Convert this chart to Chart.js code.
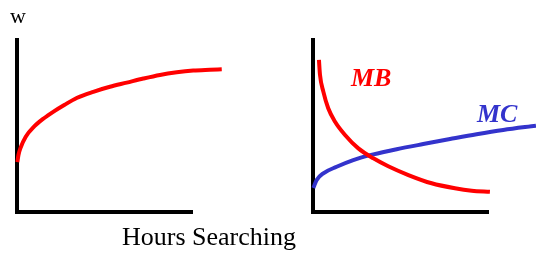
<!DOCTYPE html>
<html lang="en">
<head>
  <meta charset="UTF-8" />
  <title>Hours Searching</title>
  <style>
    body {
      margin: 0;
      width: 536px;
      height: 253px;
      background: #fff;
      position: relative;
      overflow: hidden;
      font-family: "Liberation Serif", "DejaVu Serif", serif;
    }
    canvas {
      position: absolute;
      top: 0;
    }
    #leftChart { left: 0; }
    #rightChart { left: 268px; }
    .txt {
      position: absolute;
      line-height: 1;
      white-space: nowrap;
    }
    #wLabel { left: 10px; top: 5px; font-size: 22px; color: #000; }
    #xLabel { left: 122px; top: 224px; font-size: 26px; color: #000; }
    .curveLabel { font-size: 26px; font-weight: bold; font-style: italic; }
    #mbLabel { left: 351px; top: 65px; color: #ff0000; }
    #mcLabel { left: 477px; top: 101px; color: #3333cc; }
  </style>
  <script src="https://cdn.jsdelivr.net/npm/chart.js"></script>
</head>
<body>

<canvas id="leftChart" width="268" height="253"></canvas>
<canvas id="rightChart" width="268" height="253"></canvas>

<div class="txt" id="wLabel">w</div>
<div class="txt" id="xLabel">Hours Searching</div>
<div class="txt curveLabel" id="mbLabel">MB</div>
<div class="txt curveLabel" id="mcLabel">MC</div>

<script>
  // gauche : w en fonction des heures de recherche
  const leftHours = [0.02, 0.08, 0.21, 0.50, 0.97, 1.54, 2.11, 2.70, 3.41, 4.36, 5.31, 6.27, 7.22, 8.17, 9.13, 10.07, 11.03, 11.70];
  const leftW     = [2.90, 3.30, 3.75, 4.38, 4.96, 5.45, 5.85, 6.22, 6.63, 6.99, 7.28, 7.52, 7.76, 7.97, 8.12, 8.22, 8.27, 8.30];

  // droite : MB et MC
  const mbHours  = [0.34, 0.40, 0.59, 0.87, 1.26, 1.83, 2.59, 3.45, 4.30, 5.45, 6.78, 8.11, 9.07, 10.11];
  const mbValues = [8.84, 7.97, 7.00, 6.03, 5.25, 4.48, 3.70, 3.12, 2.66, 2.15, 1.67, 1.38, 1.24, 1.18];

  const mcHours  = [0.02, 0.21, 0.59, 1.35, 2.30, 3.45, 4.78, 6.30, 7.83, 9.35, 10.87, 12.74];
  const mcValues = [1.40, 1.86, 2.25, 2.63, 3.02, 3.35, 3.65, 3.95, 4.24, 4.52, 4.77, 5.02];

  const AXIS_MAX = 10;

  function toPoints(xs, ys) {
    return xs.map((x, i) => ({ x: x, y: ys[i] }));
  }

  function curve(xs, ys, color) {
    return {
      data: toPoints(xs, ys),
      borderColor: color,
      borderWidth: 4,
      pointRadius: 0,
      cubicInterpolationMode: 'monotone',
      clip: false,
      fill: false
    };
  }

  function makeOptions(padding) {
    return {
      responsive: false,
      animation: false,
      devicePixelRatio: 1,
      layout: { padding: padding },
      plugins: { legend: { display: false }, tooltip: { enabled: false } },
      scales: {
        x: {
          type: 'linear',
          bounds: 'data',
          // pas de min/max dans les options : les courbes depassent l'axe
          afterDataLimits: s => { s.min = 0; s.max = AXIS_MAX; },
          ticks: { display: false },
          grid: { display: false },
          border: { display: true, color: '#000', width: 4 },
          afterFit: s => { s.height = 0; }
        },
        y: {
          type: 'linear',
          min: 0,
          max: AXIS_MAX,
          ticks: { display: false },
          grid: { display: false },
          border: { display: true, color: '#000', width: 4 },
          afterFit: s => { s.width = 0; }
        }
      }
    };
  }

  new Chart(document.getElementById('leftChart').getContext('2d'), {
    type: 'line',
    data: { datasets: [curve(leftHours, leftW, '#ff0000')] },
    options: makeOptions({ left: 17, right: 76, top: 40, bottom: 41 })
  });

  new Chart(document.getElementById('rightChart').getContext('2d'), {
    type: 'line',
    data: {
      datasets: [
        curve(mbHours, mbValues, '#ff0000'),
        curve(mcHours, mcValues, '#3333cc')
      ]
    },
    options: makeOptions({ left: 45, right: 48, top: 40, bottom: 41 })
  });
</script>

</body>
</html>
